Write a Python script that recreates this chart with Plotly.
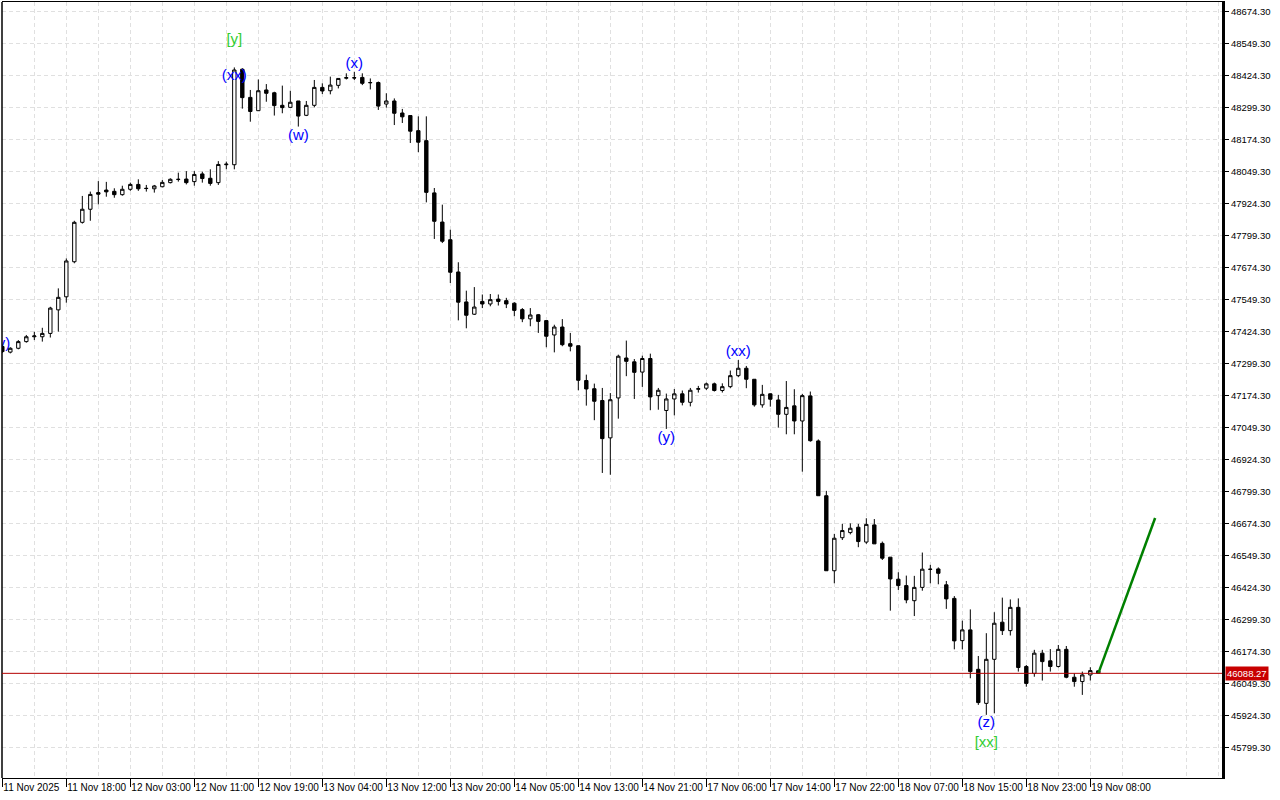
import plotly.graph_objects as go

# ---------------- data (H1 bars) ----------------
bar_index = list(range(138))

open_ = [47365, 47343, 47358, 47384, 47403, 47403, 47416, 47508, 47559, 47696,
         47850, 47901, 47966, 47976, 47971, 47958, 47979, 47998, 47983, 47981,
         47989, 48005, 48017, 48019, 48009, 48039, 48022, 48005, 48075, 48075,
         48448, 48338, 48286, 48367, 48356, 48307, 48299, 48324, 48268, 48307,
         48377, 48364, 48385, 48413, 48415, 48416, 48395, 48396, 48312, 48324,
         48277, 48267, 48208, 48169, 47965, 47851, 47782, 47656, 47539, 47491,
         47541, 47531, 47550, 47544, 47534, 47509, 47473, 47489, 47466, 47410,
         47441, 47376, 47368, 47232, 47200, 47154, 47008, 47164, 47320, 47305,
         47265, 47318, 47173, 47115, 47160, 47180, 47147, 47198, 47202, 47219,
         47193, 47208, 47251, 47280, 47237, 47137, 47180, 47156, 47100, 47133,
         47074, 47172, 46996, 46782, 46489, 46618, 46638, 46659, 46601, 46668,
         46596, 46542, 46456, 46431, 46372, 46424, 46494, 46496, 46434, 46381,
         46216, 46258, 46104, 45971, 46143, 46288, 46255, 46346, 46115, 46088,
         46167, 46137, 46115, 46182, 46073, 46056, 46082, 46098]
high = [47372, 47362, 47390, 47410, 47422, 47438, 47520, 47592, 47709, 47856,
        47953, 47970, 48011, 48008, 47983, 47993, 48005, 48018, 47996, 47996,
        48015, 48022, 48044, 48050, 48050, 48048, 48057, 48089, 48087, 48455,
        48452, 48367, 48408, 48390, 48360, 48384, 48364, 48324, 48324, 48406,
        48393, 48419, 48412, 48432, 48438, 48432, 48412, 48400, 48354, 48334,
        48293, 48267, 48264, 48264, 47984, 47919, 47821, 47694, 47583, 47597,
        47568, 47570, 47568, 47555, 47538, 47515, 47515, 47492, 47466, 47450,
        47472, 47418, 47368, 47255, 47220, 47203, 47183, 47333, 47388, 47316,
        47329, 47337, 47203, 47181, 47199, 47193, 47203, 47211, 47224, 47224,
        47221, 47271, 47312, 47289, 47237, 47215, 47182, 47176, 47230, 47198,
        47180, 47189, 47002, 46801, 46633, 46672, 46674, 46672, 46694, 46691,
        46603, 46542, 46483, 46470, 46469, 46560, 46512, 46502, 46449, 46390,
        46294, 46338, 46156, 46245, 46327, 46384, 46377, 46381, 46121, 46180,
        46180, 46183, 46199, 46195, 46088, 46095, 46112, 46100]
low = [47340, 47338, 47354, 47380, 47390, 47384, 47400, 47423, 47536, 47690,
       47845, 47856, 47920, 47950, 47946, 47954, 47973, 47973, 47970, 47966,
       47987, 48002, 48009, 47998, 47993, 48005, 47993, 47996, 48057, 48057,
       48294, 48243, 48285, 48321, 48267, 48276, 48298, 48224, 48265, 48299,
       48351, 48350, 48373, 48408, 48406, 48386, 48369, 48289, 48298, 48230,
       48238, 48160, 48124, 47928, 47785, 47769, 47613, 47467, 47436, 47488,
       47515, 47522, 47525, 47515, 47483, 47460, 47444, 47418, 47362, 47342,
       47366, 47346, 47194, 47134, 47077, 46871, 46864, 47083, 47249, 47160,
       47207, 47116, 47118, 47043, 47096, 47135, 47131, 47185, 47195, 47189,
       47185, 47202, 47245, 47202, 47130, 47126, 47130, 47048, 47022, 47022,
       46876, 46993, 46782, 46489, 46440, 46609, 46631, 46581, 46594, 46594,
       46531, 46333, 46414, 46362, 46312, 46411, 46440, 46436, 46340, 46182,
       46182, 46069, 45965, 45926, 45932, 46238, 46236, 46095, 46036, 46075,
       46060, 46095, 46111, 46069, 46036, 46004, 46060, 46086]
close = [47345, 47358, 47384, 47403, 47406, 47416, 47515, 47557, 47699, 47850,
         47901, 47959, 47960, 47969, 47958, 47979, 47998, 47981, 47982, 47992,
         48006, 48018, 48018, 48005, 48037, 48021, 48002, 48076, 48077, 48445,
         48337, 48283, 48364, 48354, 48306, 48298, 48319, 48265, 48307, 48377,
         48363, 48386, 48412, 48415, 48414, 48393, 48396, 48304, 48324, 48276,
         48262, 48206, 48163, 47967, 47854, 47776, 47655, 47538, 47487, 47519,
         47531, 47548, 47541, 47531, 47506, 47473, 47488, 47463, 47405, 47441,
         47372, 47366, 47233, 47199, 47151, 47005, 47157, 47327, 47307, 47264,
         47318, 47168, 47194, 47160, 47180, 47147, 47194, 47200, 47219, 47193,
         47208, 47251, 47280, 47237, 47137, 47178, 47159, 47100, 47127, 47074,
         47173, 46997, 46782, 46489, 46616, 46646, 46655, 46603, 46670, 46594,
         46538, 46457, 46431, 46375, 46424, 46495, 46495, 46479, 46379, 46215,
         46258, 46095, 45974, 46143, 46284, 46255, 46346, 46111, 46049, 46167,
         46134, 46115, 46182, 46073, 46056, 46082, 46099, 46088.27]

# x-axis time labels (every 8 bars)
label_bars = list(range(0, 138, 8))
time_labels = ["11 Nov 2025", "11 Nov 18:00", "12 Nov 03:00", "12 Nov 11:00",
               "12 Nov 19:00", "13 Nov 04:00", "13 Nov 12:00", "13 Nov 20:00",
               "14 Nov 05:00", "14 Nov 13:00", "14 Nov 21:00", "17 Nov 06:00",
               "17 Nov 14:00", "17 Nov 22:00", "18 Nov 07:00", "18 Nov 15:00",
               "18 Nov 23:00", "19 Nov 08:00"]
minor_bars = list(range(4, 153, 8)) + [152]

# price levels on the y axis
price_ticks = [45799.30 + 125 * k for k in range(24)]
price_labels = ["%.2f" % v for v in price_ticks]

# wave labels
blue_label_x = [-0.1, 29, 37, 44, 83, 92, 123]
blue_label_y = [47375, 48422, 48187, 48468, 47008, 47344, 45894]
blue_labels = ["(y)", "(xx)", "(w)", "(x)", "(y)", "(xx)", "(z)"]
green_label_x = [29, 123]
green_label_y = [48562, 45816]
green_labels = ["[y]", "[xx]"]

# forecast line
forecast_x = [137, 144.1]
forecast_y = [46088.27, 46695]

# ---------------- figure ----------------
GRID = "#e0e0e0"
FONT = "Liberation Sans"

fig = go.Figure()
fig.add_trace(go.Candlestick(
    x=bar_index, open=open_, high=high, low=low, close=close,
    increasing=dict(line=dict(color="black", width=1), fillcolor="white"),
    decreasing=dict(line=dict(color="black", width=1), fillcolor="black"),
    whiskerwidth=0, showlegend=False, hoverinfo="skip"))

fig.add_trace(go.Scatter(x=forecast_x, y=forecast_y, mode="lines",
                         line=dict(color="#008000", width=2.5),
                         showlegend=False, hoverinfo="skip"))

fig.add_trace(go.Scatter(x=blue_label_x, y=blue_label_y, mode="text",
                         text=blue_labels, textposition="middle center",
                         textfont=dict(family=FONT, size=15, color="#0000ff"),
                         showlegend=False, hoverinfo="skip", cliponaxis=True))
fig.add_trace(go.Scatter(x=green_label_x, y=green_label_y, mode="text",
                         text=green_labels, textposition="middle center",
                         textfont=dict(family=FONT, size=15, color="#32cd32"),
                         showlegend=False, hoverinfo="skip", cliponaxis=True))

last_price = close[-1]

fig.update_layout(
    width=1280, height=800,
    margin=dict(l=2, r=58, t=2, b=22, pad=0, autoexpand=False),
    paper_bgcolor="white", plot_bgcolor="white",
    boxgap=0.4,
    font=dict(family=FONT, size=10, color="black"),
    xaxis=dict(
        range=[-0.04, 152.46], automargin=False,
        tickmode="array", tickvals=label_bars, ticktext=time_labels,
        tickangle=0,
        ticks="outside", ticklen=8, tickcolor="black", tickwidth=1,
        ticklabelposition="outside right",
        tickfont=dict(family=FONT, size=10, color="black"),
        showgrid=True, gridcolor=GRID, griddash="4px,3px", gridwidth=1,
        minor=dict(tickvals=minor_bars, showgrid=True, gridcolor=GRID,
                   griddash="4px,3px", ticks=""),
        showline=True, linecolor="black", linewidth=1, mirror=True,
        zeroline=False, rangeslider=dict(visible=False), fixedrange=True),
    yaxis=dict(
        side="right", automargin=False,
        range=[45679.4, 48710.6],
        tickmode="array", tickvals=price_ticks, ticktext=price_labels,
        ticks="outside", ticklen=4, tickcolor="black",
        tickfont=dict(family=FONT, size=9.5, color="black"),
        showgrid=True, gridcolor=GRID, griddash="4px,3px", gridwidth=1,
        showline=True, linecolor="black", linewidth=3,
        zeroline=False, fixedrange=True),
    shapes=[
        dict(type="line", xref="paper", yref="paper", x0=0, x1=0, y0=0, y1=1,
             line=dict(color="black", width=1.5)),
        dict(type="line", xref="paper", yref="y", x0=0, x1=1,
             y0=last_price, y1=last_price,
             line=dict(color="#b40000", width=1)),
    ],
    annotations=[
        dict(x=1, xref="paper", y=last_price, yref="y", xanchor="left",
             xshift=3, text="%.2f" % last_price, showarrow=False,
             bgcolor="#c80000", borderpad=1,
             font=dict(family=FONT, size=9.5, color="white")),
    ],
)

fig.write_html("out.html",
               config={"displayModeBar": False},
               post_script="document.body.style.margin='0';"
                           "document.body.style.overflow='hidden';")
